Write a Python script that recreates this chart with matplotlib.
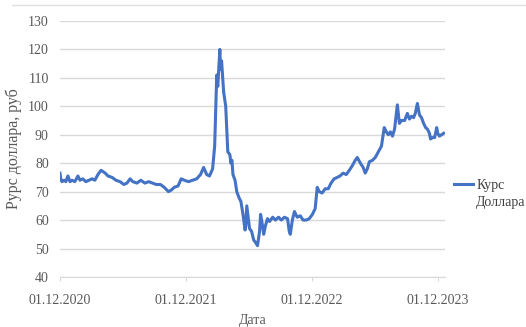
import pandas as pd
import numpy as np
import matplotlib.pyplot as plt
from matplotlib.lines import Line2D

plt.rcParams['font.family'] = ['Liberation Serif', 'DejaVu Serif']

# курс доллара
dates = [
    "2020-12-01", "2020-12-04", "2020-12-07", "2020-12-13", "2020-12-18", "2020-12-24", "2020-12-30",
    "2021-01-05", "2021-01-13", "2021-01-22", "2021-01-28", "2021-02-05", "2021-02-14", "2021-02-23",
    "2021-03-04", "2021-03-12", "2021-03-21", "2021-03-30", "2021-04-05", "2021-04-11", "2021-04-19",
    "2021-05-01", "2021-05-12", "2021-05-24", "2021-06-04", "2021-06-13", "2021-06-22", "2021-06-30",
    "2021-07-12", "2021-07-23", "2021-08-04", "2021-08-15", "2021-08-26", "2021-09-06", "2021-09-18",
    "2021-09-29", "2021-10-11", "2021-10-19", "2021-10-28", "2021-11-08", "2021-11-17", "2021-11-26",
    "2021-12-08", "2021-12-20", "2022-01-01", "2022-01-12", "2022-01-21", "2022-01-30", "2022-02-07",
    "2022-02-16", "2022-02-22", "2022-02-28", "2022-03-03", "2022-03-09", "2022-03-11", "2022-03-14",
    "2022-03-20", "2022-03-26", "2022-03-29", "2022-04-01", "2022-04-07", "2022-04-10", "2022-04-13",
    "2022-04-16", "2022-04-22", "2022-04-27", "2022-05-03", "2022-05-09", "2022-05-15", "2022-05-21",
    "2022-05-23", "2022-05-26", "2022-05-29", "2022-06-03", "2022-06-09", "2022-06-15", "2022-06-21",
    "2022-06-26", "2022-07-02", "2022-07-05", "2022-07-08", "2022-07-14", "2022-07-19", "2022-07-25",
    "2022-07-31", "2022-08-09", "2022-08-17", "2022-08-26", "2022-09-03", "2022-09-12", "2022-09-21",
    "2022-09-26", "2022-09-29", "2022-10-05", "2022-10-11", "2022-10-19", "2022-10-28", "2022-11-05",
    "2022-11-14", "2022-11-23", "2022-12-02", "2022-12-10", "2022-12-16", "2022-12-22", "2022-12-30",
    "2023-01-08", "2023-01-17", "2023-01-25", "2023-02-03", "2023-02-12", "2023-02-20", "2023-03-01",
    "2023-03-10", "2023-03-19", "2023-03-27", "2023-04-05", "2023-04-11", "2023-04-20", "2023-04-28",
    "2023-05-04", "2023-05-10", "2023-05-16", "2023-05-25", "2023-06-02", "2023-06-11", "2023-06-20",
    "2023-06-28", "2023-07-04", "2023-07-10", "2023-07-16", "2023-07-22", "2023-07-28", "2023-08-05",
    "2023-08-11", "2023-08-17", "2023-08-26", "2023-09-03", "2023-09-09", "2023-09-15", "2023-09-21",
    "2023-09-26", "2023-10-02", "2023-10-08", "2023-10-14", "2023-10-20", "2023-10-26", "2023-10-31",
    "2023-11-06", "2023-11-09", "2023-11-15", "2023-11-21", "2023-11-27", "2023-11-30", "2023-12-05",
    "2023-12-11", "2023-12-17",
]
kurs = [
    76.5, 74.0, 73.5, 74.0, 73.5, 75.5, 73.5,
    74.0, 73.5, 75.5, 74.0, 74.5, 73.5, 74.0,
    74.5, 74.0, 76.0, 77.5, 77.0, 76.5, 75.5,
    75.0, 74.0, 73.5, 72.5, 73.0, 74.5, 73.5,
    73.0, 74.0, 73.0, 73.5, 73.0, 72.5, 72.5,
    71.5, 70.0, 70.5, 71.5, 72.0, 74.5, 74.0,
    73.5, 74.0, 74.5, 76.0, 78.5, 76.0, 75.5,
    78.0, 86.0, 111.0, 107.0, 120.0, 113.0, 116.0,
    105.0, 100.0, 92.0, 84.0, 83.0, 80.0, 81.0,
    76.0, 74.0, 70.0, 68.0, 66.5, 62.0, 56.5,
    58.0, 65.0, 62.0, 57.0, 56.0, 53.0, 52.0,
    51.0, 56.0, 62.0, 60.0, 55.0, 58.0, 60.5,
    59.5, 61.0, 60.0, 61.0, 60.0, 61.0, 60.5,
    56.0, 55.0, 60.0, 63.0, 61.0, 61.5, 60.0,
    60.0, 60.5, 62.0, 64.0, 71.5, 70.0, 69.5,
    71.0, 71.0, 73.0, 74.5, 75.0, 75.5, 76.5,
    76.0, 77.5, 79.0, 81.0, 82.0, 80.0, 78.5,
    76.5, 78.0, 80.5, 81.0, 82.0, 84.0, 86.0,
    92.5, 91.0, 90.0, 91.0, 89.5, 92.0, 100.5,
    94.0, 95.0, 95.0, 97.5, 95.5, 96.5, 96.0,
    97.5, 101.0, 97.0, 96.0, 94.0, 92.5, 92.0,
    90.5, 88.5, 89.0, 89.0, 92.5, 90.5, 89.5,
    90.0, 90.5,
]
tick_dates = ["2020-12-01", "2021-12-01", "2022-12-01", "2023-12-01"]
tick_labels = ["01.12.2020", "01.12.2021", "01.12.2022", "01.12.2023"]

df = pd.DataFrame({"Дата": pd.to_datetime(dates), "Курс": kurs})

fig = plt.figure(figsize=(5.26, 3.27), dpi=100)
ax = fig.add_axes([0.114, 0.153, 0.732, 0.783])

ax.plot(df["Дата"], df["Курс"], color="#4472C4", lw=2.2, label="Курс")

ax.set_ylim(40, 130)
ax.set_yticks(np.arange(40, 131, 10))
ax.set_xlim(pd.Timestamp("2020-12-01"), pd.Timestamp("2023-12-21"))
ax.set_xticks(pd.to_datetime(tick_dates))
ax.set_xticklabels(tick_labels)

ax.grid(axis="y", color="#d9d9d9", lw=1.0)
ax.set_axisbelow(True)
for s in ["top", "right", "left"]:
    ax.spines[s].set_visible(False)
ax.spines["bottom"].set_color("#d9d9d9")
ax.tick_params(axis="y", length=0, labelsize=10, labelcolor="#595959", pad=8)
ax.tick_params(axis="x", length=3, color="#d9d9d9", labelsize=10, labelcolor="#595959", pad=9)

ax.set_ylabel("Рурс доллара, руб", fontsize=11.5, color="#595959", labelpad=4)
ax.set_xlabel("Дата", fontsize=10, color="#595959", labelpad=5)

leg = fig.legend(loc="upper left", bbox_to_anchor=(0.85, 0.475), frameon=False,
                 fontsize=10, handlelength=1.4, handletextpad=0.2, borderpad=0)
for t in leg.get_texts():
    t.set_color("#404040")
fig.text(0.905, 0.4, "Доллара", fontsize=10, color="#404040", va="top")

# рамка диаграммы сверху
fig.add_artist(Line2D([0.023, 1.0], [0.985, 0.985], color="#e0e0e0", lw=1.0))

plt.savefig("out.png", dpi=100)
